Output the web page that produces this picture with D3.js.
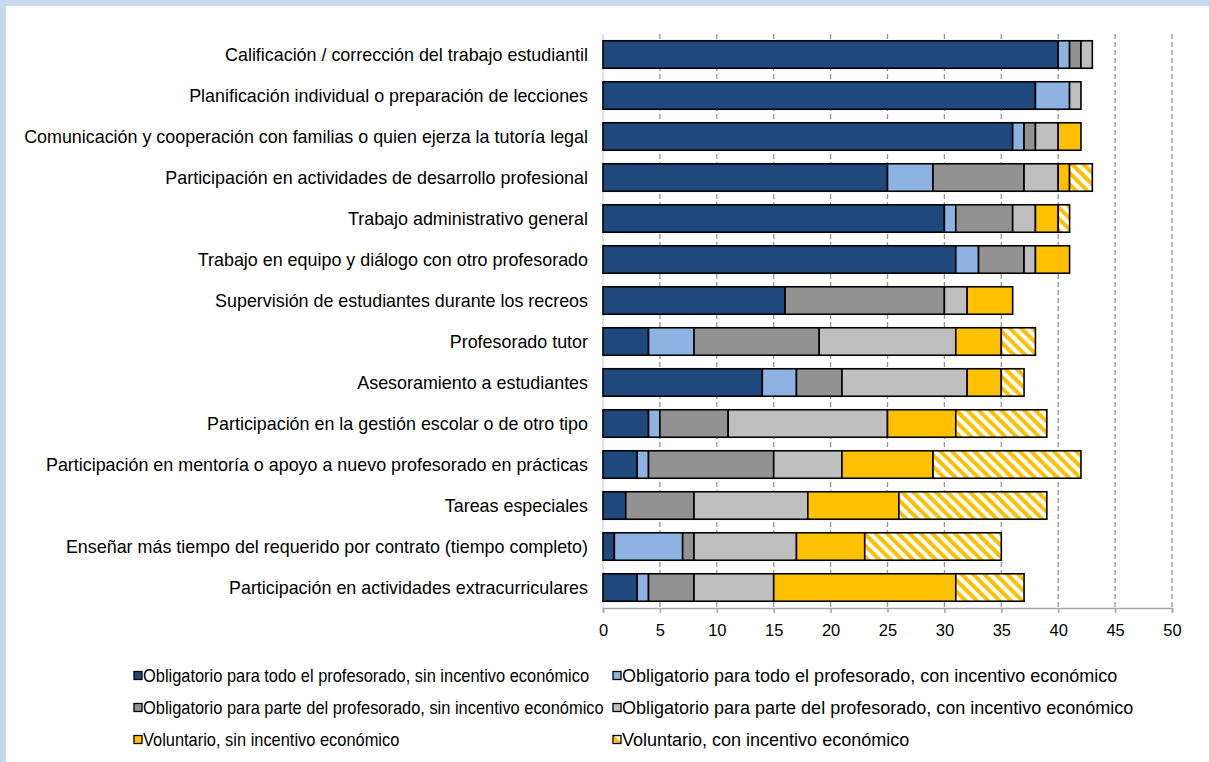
<!DOCTYPE html>
<html>
<head>
<meta charset="utf-8">
<script src="https://cdn.jsdelivr.net/npm/d3@7"></script>
<style>
  html, body { margin: 0; padding: 0; background: #c6d9f1; }
  svg { display: block; }
  text { font-family: "Liberation Sans", Arial, sans-serif; fill: #000; }
</style>
</head>
<body>
<svg id="chart" width="1209" height="762"></svg>
<script>
// Task categories, top to bottom
const categories = [
  "Calificación / corrección del trabajo estudiantil",
  "Planificación individual o preparación de lecciones",
  "Comunicación y cooperación con familias o quien ejerza la tutoría legal",
  "Participación en actividades de desarrollo profesional",
  "Trabajo administrativo general",
  "Trabajo en equipo y diálogo con otro profesorado",
  "Supervisión de estudiantes durante los recreos",
  "Profesorado tutor ",
  "Asesoramiento a estudiantes",
  "Participación en la gestión escolar o de otro tipo",
  "Participación en mentoría o apoyo a nuevo profesorado en prácticas",
  "Tareas especiales",
  "Enseñar más tiempo del requerido por contrato (tiempo completo)",
  "Participación en actividades extracurriculares"
];

const seriesNames = [
  "Obligatorio para todo el profesorado, sin incentivo económico",
  "Obligatorio para todo el profesorado, con incentivo económico",
  "Obligatorio para parte del profesorado, sin incentivo económico",
  "Obligatorio para parte del profesorado, con incentivo económico",
  "Voluntario, sin incentivo económico",
  "Voluntario, con incentivo económico"
];

// One array per series, in category order
const obligTodoSin   = [40, 38, 36, 25, 30, 31, 16, 4, 14, 4, 3, 2, 1, 3];
const obligTodoCon   = [ 1,  3,  1,  4,  1,  2,  0, 4,  3, 1, 1, 0, 6, 1];
const obligParteSin  = [ 1,  0,  1,  8,  5,  4, 14, 11, 4, 6, 11, 6, 1, 4];
const obligParteCon  = [ 1,  1,  2,  3,  2,  1,  2, 12, 11, 14, 6, 10, 9, 7];
const voluntarioSin  = [ 0,  0,  2,  1,  2,  3,  4, 4,  3, 6, 8, 8, 6, 16];
const voluntarioCon  = [ 0,  0,  0,  2,  1,  0,  0, 3,  2, 8, 13, 13, 12, 6];

const xTicks = [0, 5, 10, 15, 20, 25, 30, 35, 40, 45, 50];

const seriesData = [obligTodoSin, obligTodoCon, obligParteSin, obligParteCon, voluntarioSin, voluntarioCon];
const fills = ["#1f497d", "#8db3e2", "#929292", "#bfbfbf", "#ffc000", "url(#hatch)"];

const svg = d3.select("#chart");

// Hatch pattern for the voluntary-with-incentive segments
const defs = svg.append("defs");
const pat = defs.append("pattern")
  .attr("id", "hatch")
  .attr("patternUnits", "userSpaceOnUse")
  .attr("width", 8).attr("height", 8)
  .attr("patternTransform", "rotate(-45)");
pat.append("rect").attr("width", 8).attr("height", 8).attr("fill", "#fff");
pat.append("rect").attr("x", 0).attr("width", 4).attr("height", 8).attr("fill", "#ffc000");

// White panel
svg.append("rect").attr("x", 6).attr("y", 6).attr("width", 1203).attr("height", 756).attr("fill", "#fff");

const x = d3.scaleLinear().domain([0, 50]).range([603, 1172]);
const y = d3.scaleBand().domain(categories).range([34, 608]).paddingInner(0.33).paddingOuter(0.165);

// Stack the series
const table = categories.map((c, i) => {
  const row = { cat: c };
  seriesNames.forEach((s, k) => row[s] = seriesData[k][i]);
  return row;
});
const stacked = d3.stack().keys(seriesNames)(table);

// Dashed vertical gridlines
svg.append("g").selectAll("line").data(xTicks.slice(1)).join("line")
  .attr("x1", d => x(d)).attr("x2", d => x(d))
  .attr("y1", 34).attr("y2", 608)
  .attr("stroke", "#969696").attr("stroke-width", 1.3)
  .attr("stroke-dasharray", "5,3");

// Left axis line
svg.append("line").attr("x1", x(0)).attr("x2", x(0)).attr("y1", 34).attr("y2", 608)
  .attr("stroke", "#d9d9d9").attr("stroke-width", 1.5);

// Bars
const layers = svg.append("g").selectAll("g").data(stacked).join("g")
  .attr("fill", (d, i) => fills[i]);
layers.selectAll("rect").data(d => d.filter(p => p[1] - p[0] > 0)).join("rect")
  .attr("x", d => x(d[0]))
  .attr("y", d => y(d.data.cat))
  .attr("width", d => x(d[1]) - x(d[0]))
  .attr("height", y.bandwidth())
  .attr("stroke", "#000").attr("stroke-width", 1.6);

// Bottom axis
const xAxis = d3.axisBottom(x).tickValues(xTicks).tickSize(5).tickPadding(11);
const gx = svg.append("g").attr("transform", "translate(0,608)").call(xAxis);
gx.select(".domain").attr("stroke", "#a6a6a6").attr("stroke-width", 1.5);
gx.selectAll(".tick line").attr("stroke", "#a6a6a6").attr("stroke-width", 1.5);
gx.selectAll(".tick text").attr("font-size", 16.5).attr("font-family", "Liberation Sans, Arial, sans-serif").attr("fill", "#000");

// Category labels
svg.append("g").selectAll("text").data(categories).join("text")
  .attr("x", 588)
  .attr("y", d => y(d) + y.bandwidth() / 2)
  .attr("dy", "0.35em")
  .attr("text-anchor", "end")
  .attr("font-size", 17.9)
  .text(d => d);

// Legend: two columns, three rows; the left column is set a little narrower
const legend = svg.append("g");
const colX = [134, 613];
const colScale = [0.912, 1];
const rowY = [676, 708, 740];
seriesNames.forEach((name, i) => {
  const col = i % 2;
  const g = legend.append("g")
    .attr("transform", `translate(${colX[col]},${rowY[Math.floor(i / 2)]})`);
  g.append("rect").attr("x", 0).attr("y", -4.5).attr("width", 8).attr("height", 8)
    .attr("fill", fills[i]).attr("stroke", "#000").attr("stroke-width", 1.3);
  g.append("text")
    .attr("transform", `translate(9,0) scale(${colScale[col]},1)`)
    .attr("dy", "0.35em").attr("font-size", 18).text(name);
});
</script>
</body>
</html>
